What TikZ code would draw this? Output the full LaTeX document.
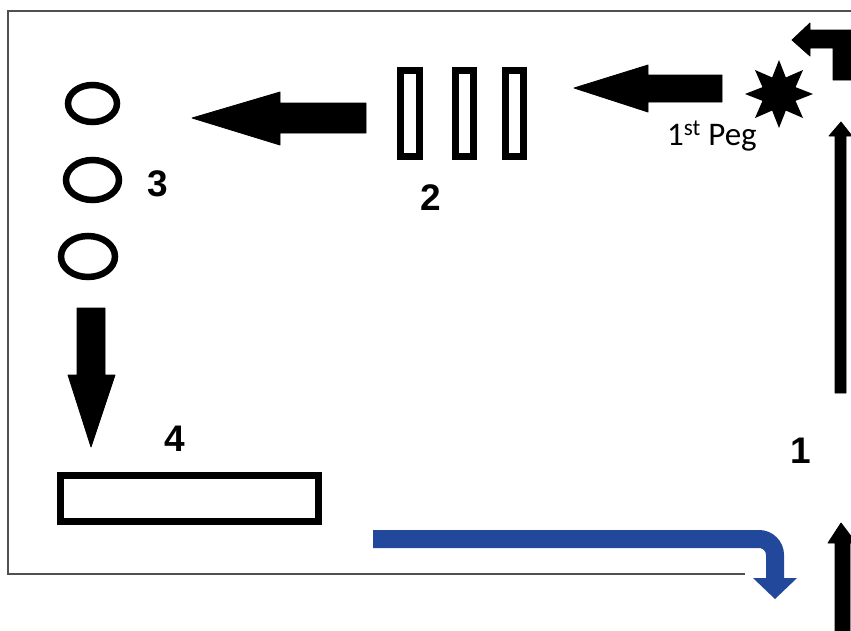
\documentclass[tikz,border=0pt]{standalone}
\usepackage{fontspec}
\setmainfont{Liberation Sans}
\newfontfamily\pegfont{Carlito}
\usetikzlibrary{shapes.geometric}
\definecolor{framegray}{RGB}{80,80,80}
\definecolor{flowblue}{RGB}{33,72,155}
\begin{document}
\begin{tikzpicture}[x=1pt,y=-1pt,
  bararrow/.style={fill=black,draw=black,line width=0.8pt,line join=round},
  pegbar/.style={draw=black,line width=7pt,rectangle,inner sep=0pt,outer sep=0pt},
  ring/.style={draw=black,line width=6.5pt,ellipse,inner sep=0pt,outer sep=0pt},
  numlabel/.style={font=\bfseries\fontsize{37}{37}\selectfont,inner sep=0pt},
  framepen/.style={draw=framegray,line width=2pt}]
\useasboundingbox (0,0) rectangle (851,630);
\clip (0,0) rectangle (851,630);
\fill[white] (0,0) rectangle (851,630);
% frame
\draw[framepen] (851,11) -- (8,11) -- (8,574) -- (745,574);
% top-right bent arrow
\fill[bararrow] (860,30) -- (810,30) -- (810,23) -- (792,40) -- (810,56) -- (810,48) -- (833,48) -- (833,80) -- (860,80) -- cycle;
% star (1st peg)
\node[star,star points=8,star point ratio=1.9,minimum size=68pt,fill=black,inner sep=0pt] (star) at (779,94) {};
\node[font=\pegfont\fontsize{33}{33}\selectfont,anchor=base west,inner sep=0pt] (peglabel) at (667,145) {1\textsuperscript{st} Peg};
% right vertical arrow
\fill[bararrow] (835,393) -- (835,136) -- (829,136) -- (841,122) -- (852,136) -- (846,136) -- (846,393) -- cycle;
\node[numlabel] (one) at (801,451) {1};
% bottom right arrow
\fill[bararrow] (835,640) -- (835,543) -- (828,543) -- (841,523) -- (856,543) -- (850,543) -- (850,640) -- cycle;
% blue arrow
\draw[flowblue,line width=18pt,rounded corners=16pt] (373,539) -- (775,539) -- (775,581);
\fill[flowblue] (753,578) -- (797,578) -- (775,599) -- cycle;
% top arrow
\fill[bararrow] (722,75) -- (648,75) -- (648,65) -- (574,88) -- (648,112) -- (648,102) -- (722,102) -- cycle;
% pegs
\node[pegbar,minimum width=19pt,minimum height=86pt] (p1) at (410,113.5) {};
\node[pegbar,minimum width=18pt,minimum height=86pt] (p2) at (464.5,113.5) {};
\node[pegbar,minimum width=18pt,minimum height=86pt] (p3) at (514.5,113.5) {};
\node[numlabel] (two) at (431,198) {2};
% middle arrow
\fill[bararrow] (366,103) -- (280,103) -- (280,92) -- (192,118) -- (280,145) -- (280,133) -- (366,133) -- cycle;
% rings
\node[ring,minimum width=49pt,minimum height=37pt] (r1) at (92.5,103.5) {};
\node[ring,minimum width=53pt,minimum height=40pt] (r2) at (92.5,180) {};
\node[ring,minimum width=54pt,minimum height=41pt] (r3) at (88,256.5) {};
\node[numlabel] (three) at (158,184) {3};
% down arrow
\fill[bararrow] (77,308) -- (105,308) -- (105,375) -- (115,375) -- (91,447) -- (68,375) -- (77,375) -- cycle;
\node[numlabel] (four) at (174.5,438.5) {4};
% final block
\node[pegbar,minimum width=258pt,minimum height=46pt] (block) at (189.5,498.5) {};
\end{tikzpicture}
\end{document}
